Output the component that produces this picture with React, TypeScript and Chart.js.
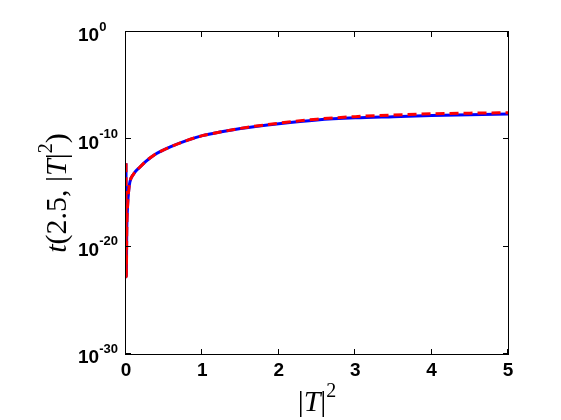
import React, { useEffect, useRef } from "react";
import { Chart, registerables } from "chart.js";

Chart.register(...registerables);

// ---- data ----
const xValues = [0, 0.004, 0.01, 0.02, 0.035, 0.05, 0.1, 0.18, 0.26, 0.36, 0.46, 0.58, 0.8, 1.0, 1.25, 1.5, 2.0, 2.5, 3.0, 3.5, 4.0, 4.5, 5.0];
const blueValues = [6e-13, 1.6e-23, 3e-19, 5e-17, 1.6e-15, 1e-14, 6e-14, 2.5e-13, 9e-13, 3.2e-12, 8e-12, 2e-11, 8e-11, 2.2e-10, 5e-10, 1e-9, 2.8e-9, 6.3e-9, 1e-8, 1.3e-8, 1.66e-8, 2e-8, 2.3e-8];
const redValues = [6e-13, 1.6e-23, 3e-19, 5e-17, 1.6e-15, 1e-14, 6e-14, 2.5e-13, 9e-13, 3.2e-12, 8e-12, 2e-11, 8e-11, 2.2e-10, 5e-10, 1.05e-9, 3.2e-9, 7.6e-9, 1.3e-8, 1.86e-8, 2.4e-8, 2.75e-8, 3e-8];
const xTicks = [0, 1, 2, 3, 4, 5];
const xTickLabels = ["0", "1", "2", "3", "4", "5"];
const yTicks = [1, 1e-10, 1e-20, 1e-30];
const yTickExponents = ["0", "-10", "-20", "-30"];

type Seg = { text: string; font: string; dy?: number };

function drawSegs(ctx: CanvasRenderingContext2D, segs: Seg[], x: number, y: number, align: "center" | "left") {
  let total = 0;
  const widths = segs.map((s) => {
    ctx.font = s.font;
    const w = ctx.measureText(s.text).width;
    total += w;
    return w;
  });
  let cx = align === "center" ? x - total / 2 : x;
  segs.forEach((s, i) => {
    ctx.font = s.font;
    ctx.fillText(s.text, cx, y + (s.dy || 0));
    cx += widths[i];
  });
}

const framePlugin = {
  id: "matlabFrame",
  afterDraw(chart: any) {
    const ctx: CanvasRenderingContext2D = chart.ctx;
    const { left, right, top, bottom } = chart.chartArea;
    const xs = chart.scales.x;
    const ys = chart.scales.y;
    ctx.save();
    ctx.strokeStyle = "#000";
    ctx.lineWidth = 1;
    ctx.strokeRect(Math.round(left) - 0.5, Math.round(top) - 0.5, Math.round(right - left) + 1, Math.round(bottom - top) + 1);
    ctx.beginPath();
    xTicks.forEach((v) => {
      const px = Math.round(xs.getPixelForValue(v)) - 0.5;
      ctx.moveTo(px, bottom);
      ctx.lineTo(px, bottom - 5);
      ctx.moveTo(px, top);
      ctx.lineTo(px, top + 5);
    });
    yTicks.forEach((v) => {
      const py = Math.round(ys.getPixelForValue(v)) - 0.5;
      ctx.moveTo(left, py);
      ctx.lineTo(left + 5, py);
      ctx.moveTo(right, py);
      ctx.lineTo(right - 5, py);
    });
    ctx.stroke();

    ctx.fillStyle = "#000";
    // x tick labels
    ctx.textBaseline = "middle";
    ctx.textAlign = "left";
    xTicks.forEach((v, i) => {
      const px = xs.getPixelForValue(v);
      drawSegs(ctx, [{ text: xTickLabels[i], font: "bold 19px 'Liberation Sans', Arial, sans-serif" }], px, bottom + 17, "center");
    });
    // y tick labels
    yTicks.forEach((v, i) => {
      const py = ys.getPixelForValue(v);
      ctx.font = "bold 19px 'Liberation Sans', Arial, sans-serif";
      ctx.fillText("10", 78, py + 4);
      const w = ctx.measureText("10").width;
      ctx.font = "bold 13px 'Liberation Sans', Arial, sans-serif";
      ctx.fillText(yTickExponents[i], 78 + w, py - 5);
    });

    // axis labels
    ctx.textBaseline = "alphabetic";
    const serif = "'Liberation Serif', 'Times New Roman', serif";
    drawSegs(
      ctx,
      [
        { text: "|", font: `30px ${serif}` },
        { text: "T", font: `italic 30px ${serif}` },
        { text: "|", font: `30px ${serif}` },
        { text: "2", font: `20px ${serif}`, dy: -14 },
      ],
      (left + right) / 2,
      411,
      "center"
    );

    ctx.translate(66, (top + bottom) / 2);
    ctx.rotate(-Math.PI / 2);
    drawSegs(
      ctx,
      [
        { text: "t", font: `italic 30px ${serif}` },
        { text: "(2.5, |", font: `30px ${serif}` },
        { text: "T", font: `italic 30px ${serif}` },
        { text: "|", font: `30px ${serif}` },
        { text: "2", font: `20px ${serif}`, dy: -14 },
        { text: ")", font: `30px ${serif}` },
      ],
      0,
      0,
      "center"
    );
    ctx.restore();
  },
};

export default function App() {
  const ref = useRef<HTMLCanvasElement>(null);
  useEffect(() => {
    if (!ref.current) return;
    const chart = new Chart(ref.current, {
      type: "line",
      data: {
        datasets: [
          {
            label: "blue",
            data: xValues.map((x, i) => ({ x, y: blueValues[i] })),
            borderColor: "#0000ff",
            borderWidth: 3,
            pointRadius: 0,
            cubicInterpolationMode: "monotone",
            fill: false,
            order: 1,
          },
          {
            label: "red",
            data: xValues.map((x, i) => ({ x, y: redValues[i] })),
            borderColor: "#ff0000",
            borderWidth: 3,
            borderDash: [9, 5],
            pointRadius: 0,
            cubicInterpolationMode: "monotone",
            fill: false,
            order: 0,
          },
        ],
      },
      options: {
        animation: false,
        responsive: false,
        layout: { padding: { left: 126, right: 53, top: 32, bottom: 66 } },
        plugins: { legend: { display: false }, tooltip: { enabled: false } },
        scales: {
          x: { type: "linear", min: 0, max: 5, display: false },
          y: { type: "logarithmic", min: 1e-30, max: 1, display: false },
        },
      },
      plugins: [framePlugin],
    });
    return () => chart.destroy();
  }, []);
  return (
    <canvas
      ref={ref}
      width={561}
      height={420}
      style={{ position: "fixed", left: 0, top: 0, width: 561, height: 420, background: "#fff" }}
    />
  );
}
